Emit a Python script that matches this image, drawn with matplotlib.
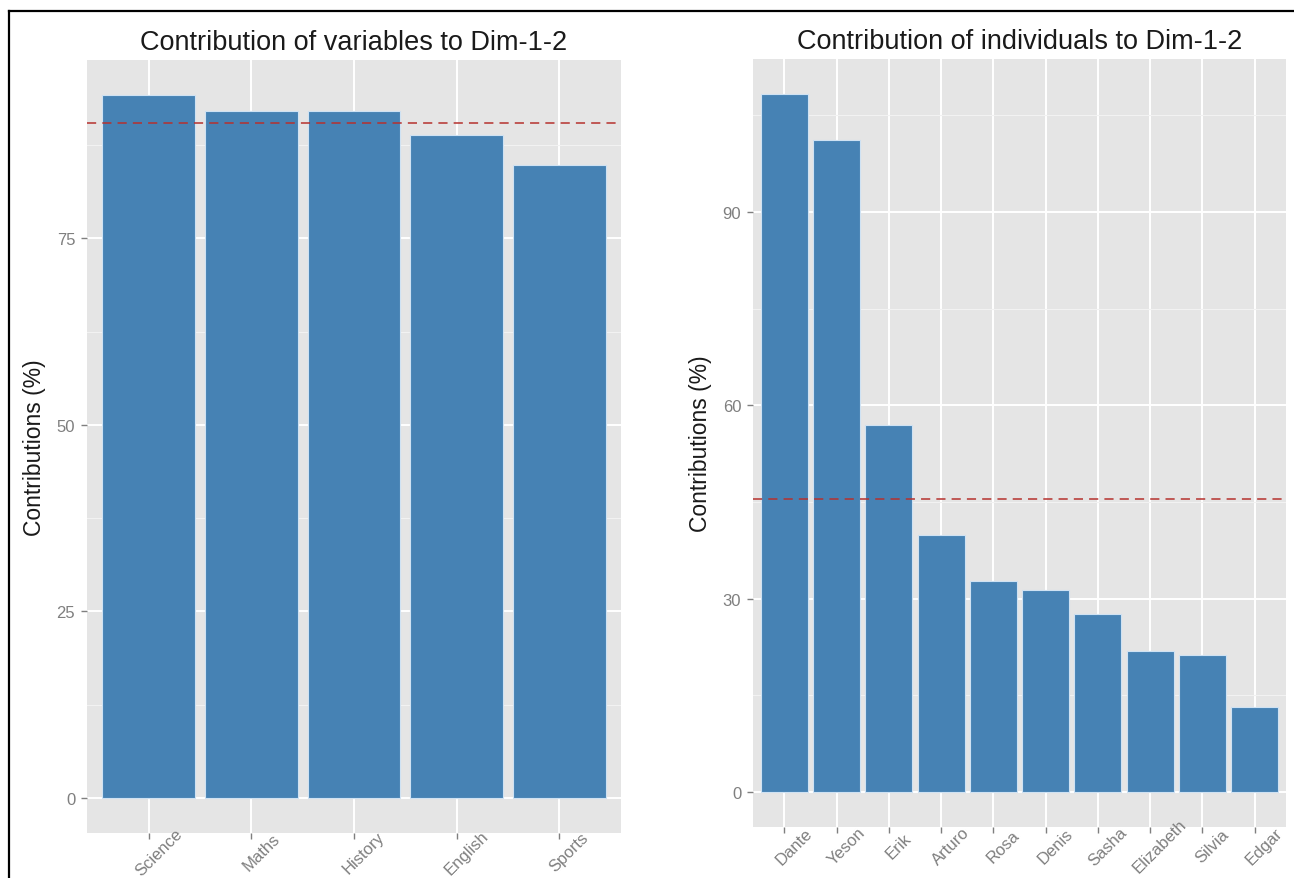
import numpy as np
import matplotlib
matplotlib.use('Agg')
import matplotlib.pyplot as plt
from matplotlib.lines import Line2D

# data
var_names = ['Science', 'Maths', 'History', 'English', 'Sports']
var_contrib = [94.2, 92.1, 92.1, 88.8, 84.9]
var_expected = 90.4

ind_names = ['Dante', 'Yeson', 'Erik', 'Arturo', 'Rosa', 'Denis',
             'Sasha', 'Elizabeth', 'Silvia', 'Edgar']
ind_contrib = [108.3, 101.1, 56.9, 39.9, 32.7, 31.4, 27.6, 21.9, 21.3, 13.2]
ind_expected = 45.4

plt.rcParams['font.family'] = ['Liberation Sans', 'DejaVu Sans']

W, H = 1294, 879
fig = plt.figure(figsize=(W / 100, H / 100), dpi=100)


def px_axes(x0, y0, x1, y1):
    # axes placed by pixel box (top-left origin)
    return fig.add_axes([x0 / W, 1 - y1 / H, (x1 - x0) / W, (y1 - y0) / H])


def contrib_panel(ax, names, vals, expected, title, step):
    x = np.arange(1, len(names) + 1)
    ax.set_facecolor('#E5E5E5')
    ax.bar(x, vals, width=0.9, color='#4682B4', edgecolor='#cfe2f3',
           linewidth=0.8, zorder=3)
    ax.axhline(expected, color='#B5312E', linestyle=(0, (6, 4)),
               linewidth=1.1, zorder=4)
    top = max(vals)
    ax.set_ylim(-0.05 * top, 1.05 * top)
    ax.set_xlim(0.4, len(names) + 0.6)
    ax.set_xticks(x)
    ax.set_xticklabels([])
    # rotated labels centred a bit right of and below each tick (ggplot style)
    for xi, name in zip(x, names):
        ax.annotate(name, xy=(xi, 0), xycoords=ax.get_xaxis_transform(),
                    xytext=(7.2, -13.7), textcoords='offset points',
                    rotation=45, ha='center', va='center', fontsize=12,
                    color='#7F7F7F', annotation_clip=False)
    ax.set_yticks(np.arange(0, top, step))
    ax.set_yticks(np.arange(step / 2, 1.05 * top, step), minor=True)
    ax.set_axisbelow(True)
    ax.grid(which='major', color='white', linewidth=1.4)
    ax.grid(which='minor', axis='y', color='#F2F2F2', linewidth=0.8)
    ax.tick_params(which='major', length=4.5, width=1, color='#7F7F7F',
                   labelcolor='#7F7F7F', labelsize=12, pad=4)
    ax.tick_params(which='minor', length=0)
    for s in ax.spines.values():
        s.set_visible(False)
    ax.set_title(title, fontsize=19.5, pad=8, color='#1a1a1a')
    ax.set_ylabel('Contributions (%)', fontsize=16.5, color='#1a1a1a')
    ax.yaxis.set_label_coords(-0.077, 0.5)


ax1 = px_axes(87, 61, 621, 834)
contrib_panel(ax1, var_names, var_contrib, var_expected,
              'Contribution of variables to Dim-1-2', 25)

ax2 = px_axes(753, 60, 1286, 828)
contrib_panel(ax2, ind_names, ind_contrib, ind_expected,
              'Contribution of individuals to Dim-1-2', 30)

# black frame on the left and top edges
fig.add_artist(Line2D([8.5 / W, 8.5 / W], [0, 1 - 11.5 / H],
                      transform=fig.transFigure, color='black', lw=1.6))
fig.add_artist(Line2D([8.5 / W, 1], [1 - 11.5 / H, 1 - 11.5 / H],
                      transform=fig.transFigure, color='black', lw=1.6))

fig.savefig('out.png', dpi=100)
